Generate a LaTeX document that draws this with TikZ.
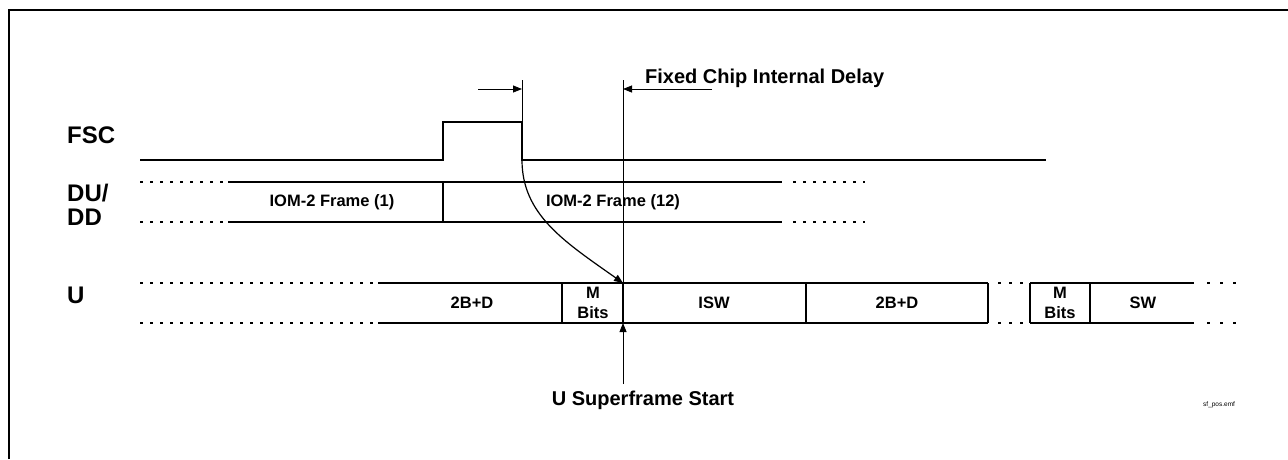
\documentclass[tikz,border=0pt]{standalone}
\usepackage{fontspec}
\setmainfont{Liberation Sans}
\usetikzlibrary{arrows.meta}
\tikzstyle{sig}=[line width=1.6pt]
\tikzstyle{gap}=[line width=1.6pt, dash pattern=on 3pt off 7pt]
\tikzstyle{hair}=[line width=0.8pt]
\tikzstyle{tip}=[-{Triangle[length=9pt,width=7pt]}]
\tikzstyle{lbl}=[font=\fontsize{24}{26}\selectfont\bfseries, anchor=west, inner sep=0]
\tikzstyle{fld}=[font=\fontsize{16.5}{19.5}\selectfont\bfseries, align=center, inner sep=0]
\tikzstyle{note}=[font=\fontsize{20}{22}\selectfont\bfseries, inner sep=0]

\begin{document}
\begin{tikzpicture}[x=1pt,y=-1pt]
\useasboundingbox (0,0) rectangle (1288,459);
\draw[line width=2pt] (9,459) -- (9,10) -- (1288,10);
\node[lbl] (fsc) at (67,135) {FSC};
\node[lbl] (du) at (67,193) {DU/};
\node[lbl] (dd) at (67,217) {DD};
\node[lbl] (u) at (67,295) {U};
\coordinate (rise) at (443,160);
\coordinate (fall) at (522,160);
\coordinate (ustart) at (623,283);
\coordinate (ubot) at (623,323);
\draw[sig] (140,160) -- (rise) -- (443,122) -- (522,122) -- (fall) -- (1046,160);
\foreach \y in {182,222}
{
\draw[gap] (140,\y) -- (226,\y);
\draw[sig] (228,\y) -- (782,\y);
\draw[gap] (793,\y) -- (865,\y);
}
\draw[sig] (443,182) -- (443,222);
\node[fld] (iom1) at (332,202) {IOM-2 Frame (1)};
\node[fld] (iom12) at (613,202) {IOM-2 Frame (12)};
\foreach \y in {283,323}
{
\draw[gap] (140,\y) -- (376,\y);
\draw[sig] (378,\y) -- (988,\y);
\draw[gap, dash pattern=on 3pt off 8pt] (998,\y) -- (1026,\y);
\draw[sig] (1030,\y) -- (1194,\y);
\draw[gap, dash pattern=on 3pt off 10pt] (1207,\y) -- (1240,\y);
}
\foreach \x in {562,623,806,988,1030,1090}
{
\draw[sig] (\x,283) -- (\x,323);
}
\node[fld] (bd1) at (472,303) {2B+D};
\node[fld] (mb1) at (593,303) {M\\Bits};
\node[fld] (isw) at (714,303) {ISW};
\node[fld] (bd2) at (897,303) {2B+D};
\node[fld] (mb2) at (1060,303) {M\\Bits};
\node[fld] (sw) at (1143,303) {SW};
\draw[hair] (522,80) -- (522,122);
\draw[hair] (623,80) -- (ustart);
\draw[hair,tip] (478,89) -- (522,89);
\draw[hair,tip] (712,89) -- (623,89);
\node[note, anchor=west] (delay) at (645,78) {Fixed Chip Internal Delay};
\draw[line width=1.2pt,tip] (fall) .. controls (522,215) and (565,242) .. (ustart);
\node[note] (sfstart) at (643,400) {U Superframe Start};
\draw[hair,tip] (623,384) -- (ubot);
\node[font=\fontsize{6.5}{7}\selectfont, anchor=west, inner sep=0] (fname) at (1203,405) {sf\_pos.emf};
\end{tikzpicture}
\end{document}
